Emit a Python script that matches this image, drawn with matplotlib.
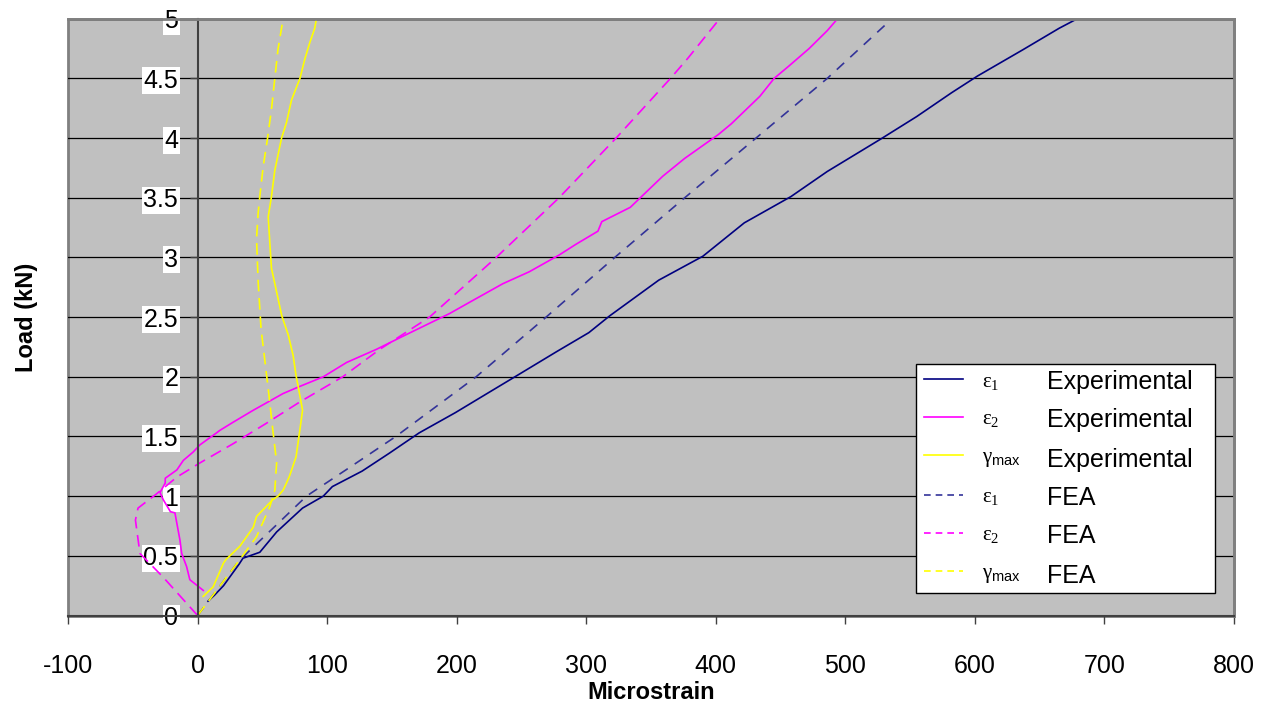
import matplotlib.pyplot as plt
from matplotlib.lines import Line2D

plt.rcParams['font.family'] = ['Liberation Sans', 'DejaVu Sans']
plt.rcParams['axes.unicode_minus'] = False
plt.rcParams['mathtext.fontset'] = 'custom'
plt.rcParams['mathtext.rm'] = 'Liberation Serif'
plt.rcParams['mathtext.it'] = 'Liberation Serif:italic'
plt.rcParams['mathtext.sf'] = 'Liberation Sans'

# data (microstrain, load kN)
e1_exp_x = [8, 13, 20, 32, 35, 48, 61, 71, 81, 97, 104, 127, 148, 171, 199, 225, 248, 277,
            302, 318, 356, 390, 422, 458, 486, 527, 555, 582, 602, 637, 665, 679]
e1_exp_y = [0.12, 0.17, 0.25, 0.43, 0.48, 0.53, 0.70, 0.80, 0.90, 1.00, 1.08, 1.21, 1.36, 1.53,
            1.70, 1.87, 2.02, 2.21, 2.37, 2.51, 2.81, 3.01, 3.29, 3.51, 3.72, 3.99, 4.18, 4.38,
            4.52, 4.74, 4.92, 5.00]

e2_exp_x = [4.4, -6, -8.5, -12.3, -13.6, -17.5, -21, -26.5, -29, -25, -25, -16, -11, -3.4, 1.8,
            14.6, 17, 27.5, 43, 66, 79, 97, 115, 138, 158.5, 194.5, 212.5, 235.6, 256, 279, 292,
            309, 312, 334, 359, 376, 402, 412, 434, 445, 456, 472, 486, 494]
e2_exp_y = [0.21, 0.30, 0.41, 0.52, 0.63, 0.86, 0.87, 0.97, 1.03, 1.11, 1.15, 1.22, 1.30, 1.37,
            1.43, 1.53, 1.55, 1.62, 1.72, 1.86, 1.92, 2.00, 2.12, 2.23, 2.34, 2.53, 2.64, 2.78,
            2.88, 3.02, 3.11, 3.22, 3.30, 3.42, 3.68, 3.83, 4.03, 4.12, 4.35, 4.50, 4.60, 4.75,
            4.90, 5.00]

g_exp_x = [4.3, 12, 20, 22, 32.6, 43, 45.5, 58, 62, 66, 68.6, 71, 76, 79, 81, 80, 77.6, 76,
           73.7, 70, 65, 61, 57, 55.7, 54.5, 57, 59.6, 64.8, 68.6, 72.5, 79, 82.7, 86.6, 90.4, 91.7]
g_exp_y = [0.16, 0.24, 0.44, 0.47, 0.58, 0.74, 0.83, 0.97, 1.00, 1.05, 1.11, 1.17, 1.33, 1.56,
           1.72, 1.78, 1.92, 2.01, 2.18, 2.35, 2.51, 2.71, 2.91, 3.13, 3.34, 3.51, 3.73, 4.00,
           4.13, 4.32, 4.50, 4.66, 4.80, 4.92, 5.00]

e1_fea_x = [0, 32, 60, 84, 120, 153, 215, 269, 322, 376, 431, 486, 536]
e1_fea_y = [0, 0.46, 0.75, 1.00, 1.26, 1.50, 2.00, 2.50, 3.00, 3.50, 4.00, 4.50, 5.00]

e2_fea_x = [0, -26.5, -44.5, -48, -46, -31.6, -16, 2, 27.5, 53, 79, 112, 140.6, 179, 230.5,
            279, 323, 365, 378.5, 403]
e2_fea_y = [0, 0.32, 0.52, 0.80, 0.90, 1.02, 1.16, 1.28, 1.44, 1.61, 1.79, 2.00, 2.23, 2.50,
            3.00, 3.50, 4.00, 4.50, 4.67, 5.00]

g_fea_x = [0, 32, 45.5, 55.7, 59.6, 61, 58, 54.5, 49, 46.7, 45.5, 46.7, 48, 50.6, 54, 57, 59.6,
           62, 66]
g_fea_y = [0, 0.46, 0.66, 0.91, 1.05, 1.28, 1.56, 1.90, 2.40, 2.80, 3.16, 3.37, 3.51, 3.76,
           4.00, 4.24, 4.50, 4.74, 5.00]

x_ticks = [-100, 0, 100, 200, 300, 400, 500, 600, 700, 800]
y_ticks = [0, 0.5, 1, 1.5, 2, 2.5, 3, 3.5, 4, 4.5, 5]
y_tick_labels = ['0', '0.5', '1', '1.5', '2', '2.5', '3', '3.5', '4', '4.5', '5']

symbols = [r'$\mathrm{\varepsilon}_{\mathrm{1}}$', r'$\mathrm{\varepsilon}_{\mathrm{2}}$',
           r'$\mathrm{\gamma}_{\mathsf{max}}$',
           r'$\mathrm{\varepsilon}_{\mathrm{1}}$', r'$\mathrm{\varepsilon}_{\mathrm{2}}$',
           r'$\mathrm{\gamma}_{\mathsf{max}}$']
words = ['Experimental', 'Experimental', 'Experimental', 'FEA', 'FEA', 'FEA']

fig = plt.figure(figsize=(12.65, 7.07), dpi=100)
ax = fig.add_axes([0.0538, 0.1294, 0.9217, 0.8441])
ax.set_facecolor('#C0C0C0')
ax.patch.set_edgecolor('#808080')
ax.patch.set_linewidth(2)

lw = 1.2
ax.plot(e1_exp_x, e1_exp_y, color='#000080', lw=lw)
ax.plot(e2_exp_x, e2_exp_y, color='#FF00FF', lw=lw)
ax.plot(g_exp_x, g_exp_y, color='#FFFF00', lw=lw)
ax.plot(e1_fea_x, e1_fea_y, color='#333399', lw=lw, dashes=(6, 5))
ax.plot(e2_fea_x, e2_fea_y, color='#FF00FF', lw=lw, dashes=(7, 4))
ax.plot(g_fea_x, g_fea_y, color='#FFFF00', lw=lw, dashes=(7, 4))

ax.set_xlim(-100, 800)
ax.set_ylim(0, 5)
ax.set_xticks(x_ticks)
ax.set_yticks(y_ticks)
ax.set_yticklabels(y_tick_labels)
ax.yaxis.grid(True, color='black', lw=0.9)
ax.set_axisbelow(True)

ax.spines['left'].set_position(('data', 0))
ax.spines['left'].set_color('#404040')
ax.spines['left'].set_linewidth(1.5)
ax.spines['bottom'].set_color('#404040')
ax.spines['bottom'].set_linewidth(1.5)
for s in ['top', 'right']:
    ax.spines[s].set_color('#808080')
    ax.spines[s].set_linewidth(2)

ax.tick_params(axis='x', direction='out', length=6, width=1, color='#404040',
               labelsize=18, pad=22)
ax.tick_params(axis='y', direction='out', length=6, width=1, color='#404040',
               labelsize=18, pad=8)
for t in ax.get_yticklabels():
    t.set_bbox(dict(facecolor='white', edgecolor='none', pad=1))

fig.text(0.5150, 0.0212, 'Microstrain', ha='center', va='center', fontsize=17, fontweight='bold')
fig.text(0.012, 0.551, 'Load (kN)', ha='left', va='center', rotation=90, fontsize=17,
         fontweight='bold')

handles = [
    Line2D([], [], color='#000080', lw=lw),
    Line2D([], [], color='#FF00FF', lw=lw),
    Line2D([], [], color='#FFFF00', lw=lw),
    Line2D([], [], color='#333399', lw=lw, dashes=(4, 3)),
    Line2D([], [], color='#FF00FF', lw=lw, dashes=(4, 3)),
    Line2D([], [], color='#FFFF00', lw=lw, dashes=(4, 3)),
]
leg = ax.legend(handles, symbols, loc='lower left', bbox_to_anchor=(0.727, 0.0377, 0.2564, 0.3853),
                mode='expand', fontsize=15, frameon=True, fancybox=False, edgecolor='black',
                facecolor='white', framealpha=1, handlelength=1.9, handletextpad=0.9,
                borderpad=0.38, labelspacing=0.86, borderaxespad=0)
leg.get_frame().set_linewidth(1)

# put the second column of legend text next to the symbols
fig.canvas.draw()
inv = ax.transAxes.inverted()
for t, w in zip(leg.get_texts(), words):
    bb = t.get_window_extent()
    yc = inv.transform((0, (bb.y0 + bb.y1) / 2))[1]
    ax.text(0.8393, yc, w, transform=ax.transAxes, fontsize=18, va='center', ha='left', zorder=10)

fig.savefig('out.png', dpi=100)
